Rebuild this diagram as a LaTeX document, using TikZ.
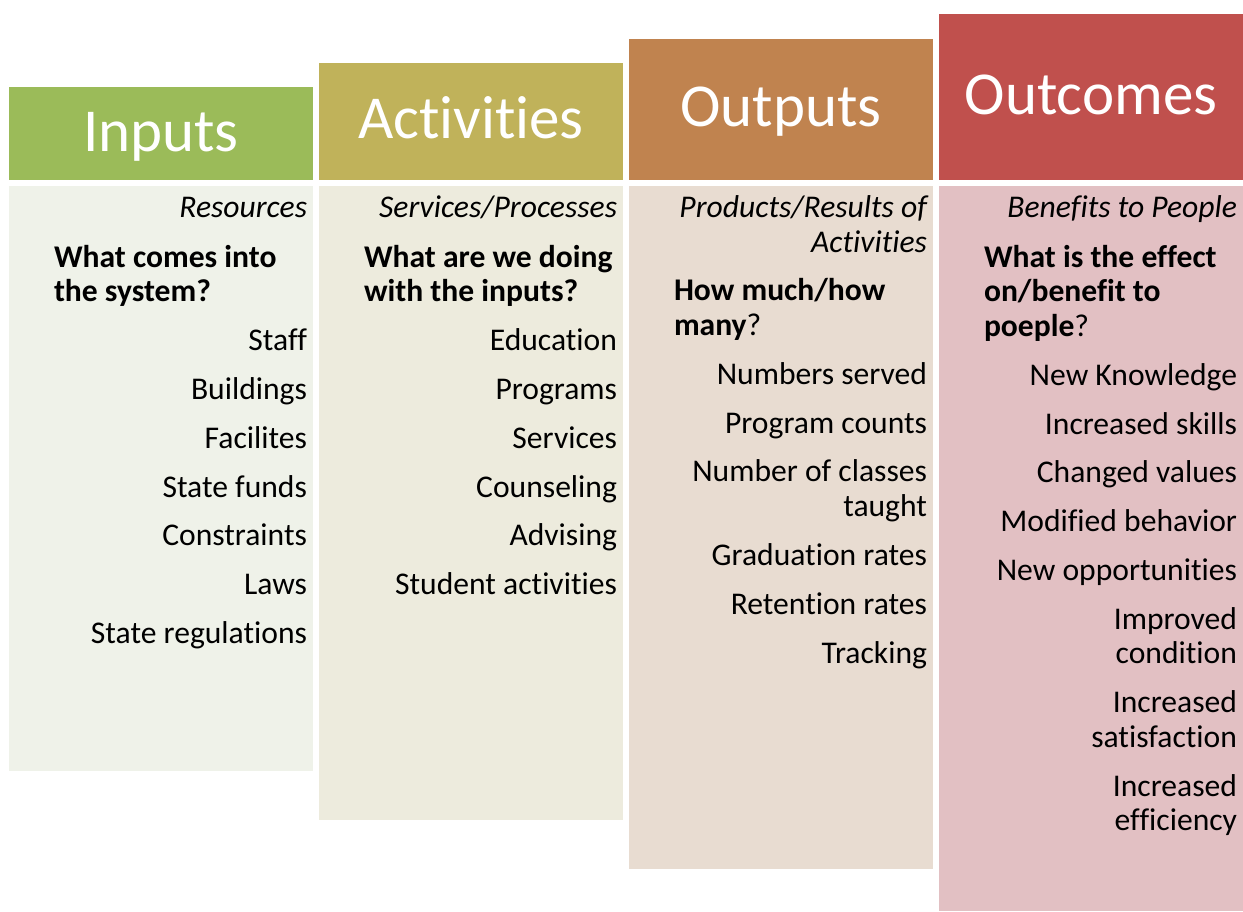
\documentclass[tikz,border=0pt]{standalone}
\usepackage{fontspec}
\setmainfont{Carlito}[Ligatures={NoCommon}]
\definecolor{inH}{HTML}{9BBB59}
\definecolor{acH}{HTML}{C0B25A}
\definecolor{ouH}{HTML}{C0834F}
\definecolor{ocH}{HTML}{C0504D}
\definecolor{inB}{HTML}{EFF2E9}
\definecolor{acB}{HTML}{EDEBDD}
\definecolor{ouB}{HTML}{E8DCD1}
\definecolor{ocB}{HTML}{E2C0C3}
\begin{document}
\begin{tikzpicture}[x=1pt,y=-1pt,
  rline/.style={anchor=base east,inner sep=0pt,outer sep=0pt,font=\fontsize{31.6}{34.7}\selectfont},
  iline/.style={rline,font=\fontsize{31.6}{34.7}\selectfont\itshape},
  lline/.style={anchor=base west,inner sep=0pt,outer sep=0pt,font=\fontsize{31.6}{34.7}\selectfont\bfseries},
  head/.style={anchor=base,inner sep=0pt,outer sep=0pt,text=white,font=\fontsize{61}{68}\selectfont}]
\useasboundingbox[fill=white] (0,0) rectangle (1243,911);
% headers
\fill[inH] (9,87.3) rectangle (313,180);
\fill[acH] (319,62.7) rectangle (623,180);
\fill[ouH] (629,39) rectangle (933,180);
\fill[ocH] (939,14) rectangle (1243,180);
% bodies
\fill[inB] (9,186) rectangle (313,770.7);
\fill[acB] (319,186) rectangle (623,819.7);
\fill[ouB] (629,186) rectangle (933,868.7);
\fill[ocB] (939,186) rectangle (1243,911);
% header texts
\node[head] (hin) at (161,151.7) {Inputs};
\node[head] (hac) at (471,138.3) {Activities};
\node[head] (hou) at (781,126.7) {Outputs};
\node[head] (hoc) at (1091,114.3) {Outcomes};
% column 1
\node[iline] (a0) at (307,217.3) {Resources};
\node[lline] (a1) at (54,267) {What comes into};
\node[lline] (a2) at (54,301.7) {the system?};
\node[rline] (a3) at (307,350.7) {Staff};
\node[rline] (a4) at (307,399.5) {Buildings};
\node[rline] (a5) at (307,448.3) {Facilites};
\node[rline] (a6) at (307,497.1) {State funds};
\node[rline] (a7) at (307,545.9) {Constraints};
\node[rline] (a8) at (307,594.7) {Laws};
\node[rline] (a9) at (307,643.5) {State regulations};
% column 2
\node[iline] (b0) at (617,217.3) {Services/Processes};
\node[lline] (b1) at (364,267) {What are we doing};
\node[lline] (b2) at (364,301.7) {with the inputs?};
\node[rline] (b3) at (617,350.7) {Education};
\node[rline] (b4) at (617,399.5) {Programs};
\node[rline] (b5) at (617,448.3) {Services};
\node[rline] (b6) at (617,497.1) {Counseling};
\node[rline] (b7) at (617,545.9) {Advising};
\node[rline] (b8) at (617,594.7) {Student activities};
% column 3
\node[iline] (c0) at (927,217.3) {Products/Results of};
\node[iline] (c1) at (927,252) {Activities};
\node[lline] (c2) at (674,300.8) {How much/how};
\node[lline] (c3) at (674,335.5) {many\mdseries ?};
\node[rline] (c4) at (927,384.3) {Numbers served};
\node[rline] (c5) at (927,433.1) {Program counts};
\node[rline] (c6) at (927,481.9) {Number of classes};
\node[rline] (c7) at (927,516.6) {taught};
\node[rline] (c8) at (927,565.4) {Graduation rates};
\node[rline] (c9) at (927,614.2) {Retention rates};
\node[rline] (c10) at (927,663) {Tracking};
% column 4
\node[iline] (d0) at (1237,217.3) {Benefits to People};
\node[lline] (d1) at (984,267) {What is the effect};
\node[lline] (d2) at (984,301.7) {on/benefit to};
\node[lline] (d3) at (984,336.4) {poeple\mdseries ?};
\node[rline] (d4) at (1237,385.2) {New Knowledge};
\node[rline] (d5) at (1237,434) {Increased skills};
\node[rline] (d6) at (1237,482.8) {Changed values};
\node[rline] (d7) at (1237,531.6) {Modified behavior};
\node[rline] (d8) at (1237,580.4) {New opportunities};
\node[rline] (d9) at (1237,629.2) {Improved};
\node[rline] (d10) at (1237,663.9) {condition};
\node[rline] (d11) at (1237,712.7) {Increased};
\node[rline] (d12) at (1237,747.4) {satisfaction};
\node[rline] (d13) at (1237,796.2) {Increased};
\node[rline] (d14) at (1237,830.9) {efficiency};
\end{tikzpicture}
\end{document}
